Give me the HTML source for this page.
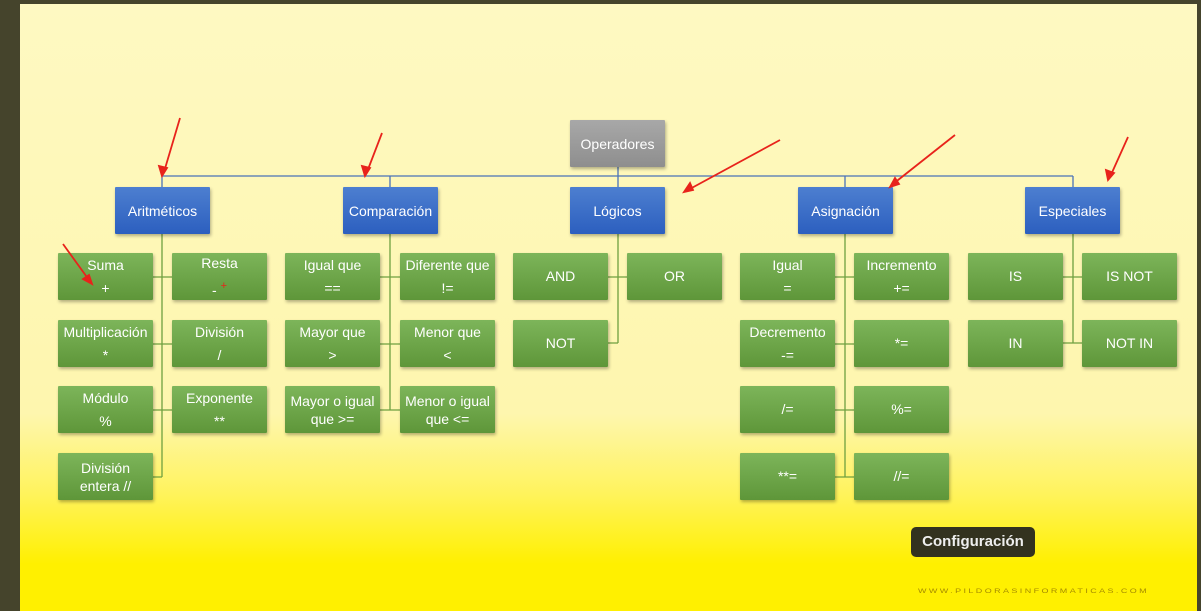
<!DOCTYPE html>
<html><head><meta charset="utf-8"><style>
*{margin:0;padding:0;box-sizing:border-box}
body{width:1201px;height:611px;overflow:hidden;background:#45442c;position:relative;font-family:"Liberation Sans",sans-serif}
#bg{position:absolute;left:20px;top:4px;width:1177px;height:607px;background:linear-gradient(#fef9c2 0px,#fef6ae 410px,#fff35c 490px,#fff000 560px,#fff000 607px)}
.b{position:absolute;width:95px;height:47px;color:#fff;font-size:14px;display:flex;flex-direction:column;justify-content:center;align-items:center;text-align:center;box-shadow:1px 2px 3px rgba(0,0,0,.3);border-radius:1px}
.g{background:linear-gradient(#7db55a,#5e9639);line-height:23px}
.bl{background:linear-gradient(#4d7fd0,#2c5fbf);font-size:14px}
.gr{background:linear-gradient(#a8a8a8,#8e8e8e)}
.t{line-height:18px}
#cfg{position:absolute;left:911px;top:527px;width:124px;height:30px;background:#33321f;border-radius:5px;color:#eee;font-weight:bold;font-size:15px;text-align:center;line-height:30px}
#url{position:absolute;left:918px;top:586px;font-size:9px;letter-spacing:2.4px;color:#a48a00;transform:scaleY(.7)}
</style></head><body>
<div id="bg"></div>
<svg width="1201" height="611" style="position:absolute;left:0;top:0">
<g stroke="#4a72b8" stroke-width="1.3" fill="none">
<path d="M618 166V176M162 176H1073M162 176V187M390 176V187M618 176V187M845 176V187M1073 176V187"/>
</g>
<g stroke="#6fa040" stroke-width="1.3" fill="none">
<path d="M162 233V477M153 277H172M153 344H172M153 410H172M153 477H162"/>
<path d="M390 233V410M380 277H400M380 344H400M380 410H400"/>
<path d="M618 233V343M608 277H627M608 343H618"/>
<path d="M845 233V477M835 277H854M835 344H854M835 410H854M835 477H854"/>
<path d="M1073 233V343M1063 277H1082M1063 343H1082"/>
</g>
</svg>
<div class="b gr" style="left:570px;top:120px">Operadores</div>
<div class="b bl" style="left:115px;top:187px">Aritméticos</div>
<div class="b bl" style="left:343px;top:187px">Comparación</div>
<div class="b bl" style="left:570px;top:187px">Lógicos</div>
<div class="b bl" style="left:798px;top:187px">Asignación</div>
<div class="b bl" style="left:1025px;top:187px">Especiales</div>

<div class="b g" style="left:58px;top:253px"><div>Suma</div><div>+</div></div>
<div class="b g" style="left:172px;top:253px"><div>Resta</div><div>- <span style="color:#e8231b;font-size:11px;vertical-align:6px">+</span></div></div>
<div class="b g" style="left:58px;top:320px"><div>Multiplicación</div><div>*</div></div>
<div class="b g" style="left:172px;top:320px"><div>División</div><div>/</div></div>
<div class="b g" style="left:58px;top:386px"><div>Módulo</div><div>%</div></div>
<div class="b g" style="left:172px;top:386px"><div>Exponente</div><div>**</div></div>
<div class="b g t" style="left:58px;top:453px"><div>División</div><div>entera //</div></div>

<div class="b g" style="left:285px;top:253px"><div>Igual que</div><div>==</div></div>
<div class="b g" style="left:400px;top:253px"><div>Diferente que</div><div>!=</div></div>
<div class="b g" style="left:285px;top:320px"><div>Mayor que</div><div>&gt;</div></div>
<div class="b g" style="left:400px;top:320px"><div>Menor que</div><div>&lt;</div></div>
<div class="b g t" style="left:285px;top:386px"><div>Mayor o igual</div><div>que &gt;=</div></div>
<div class="b g t" style="left:400px;top:386px"><div>Menor o igual</div><div>que &lt;=</div></div>

<div class="b g" style="left:513px;top:253px">AND</div>
<div class="b g" style="left:627px;top:253px">OR</div>
<div class="b g" style="left:513px;top:320px">NOT</div>

<div class="b g" style="left:740px;top:253px"><div>Igual</div><div>=</div></div>
<div class="b g" style="left:854px;top:253px"><div>Incremento</div><div>+=</div></div>
<div class="b g" style="left:740px;top:320px"><div>Decremento</div><div>-=</div></div>
<div class="b g" style="left:854px;top:320px">*=</div>
<div class="b g" style="left:740px;top:386px">/=</div>
<div class="b g" style="left:854px;top:386px">%=</div>
<div class="b g" style="left:740px;top:453px">**=</div>
<div class="b g" style="left:854px;top:453px">//=</div>

<div class="b g" style="left:968px;top:253px">IS</div>
<div class="b g" style="left:1082px;top:253px">IS NOT</div>
<div class="b g" style="left:968px;top:320px">IN</div>
<div class="b g" style="left:1082px;top:320px">NOT IN</div>

<svg width="1201" height="611" style="position:absolute;left:0;top:0">
<g stroke="#e8231b" stroke-width="1.8" fill="#e8231b">
<path d="M180 118L164 172"/><path d="M162 176l-3-10 8 2z"/>
<path d="M382 133L367 172"/><path d="M365 176l-3-10 8 2z"/>
<path d="M780 140L688 190"/><path d="M684 192l6-9 3 7z"/>
<path d="M955 135L893 184"/><path d="M890 187l5-9 4 6z"/>
<path d="M1128 137L1110 177"/><path d="M1108 180l-2-10 8 3z"/>
<path d="M63 244L89 280"/><path d="M92 284l-9-5 6-4z"/>
</g>
</svg>

<div id="cfg">Configuración</div>
<div id="url">WWW.PILDORASINFORMATICAS.COM</div>
</body></html>
